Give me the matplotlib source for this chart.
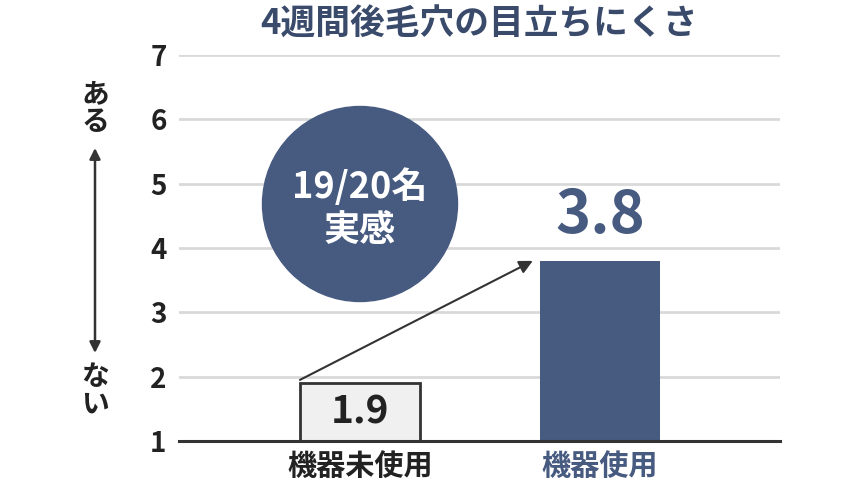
import matplotlib.pyplot as plt
from matplotlib.patches import Circle

plt.rcParams['font.family'] = ['Noto Sans CJK JP', 'DejaVu Sans']
plt.rcParams['font.weight'] = 'bold'

categories = ['機器未使用', '機器使用']
values = [1.9, 3.8]
yticks = [1, 2, 3, 4, 5, 6, 7]
title = '4週間後毛穴の目立ちにくさ'
badge = '19/20名\n実感'

navy = '#475a80'
dark = '#222222'

fig = plt.figure(figsize=(8.64, 4.86), dpi=100)
ax = fig.add_axes([179 / 864, 45 / 486, 601 / 864, 386 / 486])

x = [0, 1]
ax.bar(x[0], values[0] - 1, bottom=1, width=0.5, color='#f0f0f0',
       edgecolor='#333333', linewidth=2, zorder=3)
ax.bar(x[1], values[1] - 1, bottom=1, width=0.5, color=navy, zorder=3)

ax.set_xlim(-0.754, 1.75)
ax.set_ylim(1, 7)
ax.set_yticks(yticks)
ax.set_yticklabels([str(t) for t in yticks], fontsize=20, color=dark)
ax.yaxis.grid(True, color='#d9d9d9', linewidth=2, zorder=0)
ax.tick_params(axis='y', length=0, pad=9)
ax.tick_params(axis='x', length=0, pad=7)
ax.set_xticks(x)
ax.set_xticklabels(categories, fontsize=21)
ax.get_xticklabels()[0].set_color(dark)
ax.get_xticklabels()[1].set_color(navy)
for s in ['top', 'right', 'left']:
    ax.spines[s].set_visible(False)
ax.spines['bottom'].set_color('#333333')
ax.spines['bottom'].set_linewidth(2.2)
ax.spines['bottom'].set_zorder(4)

# value labels
ax.text(x[0], (1 + values[0]) / 2, f'{values[0]}', ha='center', va='center',
        fontsize=28, color=dark, zorder=5)
ax.text(x[1], values[1] + 0.69, f'{values[1]}', ha='center', va='center',
        fontsize=43, color=navy, zorder=5)

# trend arrow
ax.annotate('', xy=(0.72, values[1]), xytext=(-0.25, values[0] + 0.05),
            arrowprops=dict(arrowstyle='-|>', color='#333333', lw=1.5,
                            mutation_scale=20, shrinkA=0, shrinkB=0),
            zorder=6)

# badge circle
circ = Circle((3.60, (486 - 204) / 100), 0.975, transform=fig.dpi_scale_trans,
              color=navy, zorder=2)
fig.patches.append(circ)
fig.text(360 / 864, 1 - 209 / 486, badge, ha='center', va='center',
         fontsize=26, color='white', linespacing=1.2)

# title
fig.text(479 / 864, 1 - 24 / 486, title, ha='center', va='center',
         fontsize=25, color='#3a4a6b')

# left scale annotation
fig.text(95 / 864, 1 - 108 / 486, 'あ\nる', ha='center', va='center',
         fontsize=20, color=dark, linespacing=1.0)
fig.text(95 / 864, 1 - 391 / 486, 'な\nい', ha='center', va='center',
         fontsize=20, color=dark, linespacing=1.0)
fig.add_artist(plt.Annotation('', xy=(95 / 864, 1 - 148 / 486),
                              xytext=(95 / 864, 1 - 353 / 486),
                              xycoords='figure fraction',
                              arrowprops=dict(arrowstyle='<|-|>', color='#333333',
                                              lw=1.8, mutation_scale=16,
                                              shrinkA=0, shrinkB=0)))

fig.savefig('out.png', dpi=100)
